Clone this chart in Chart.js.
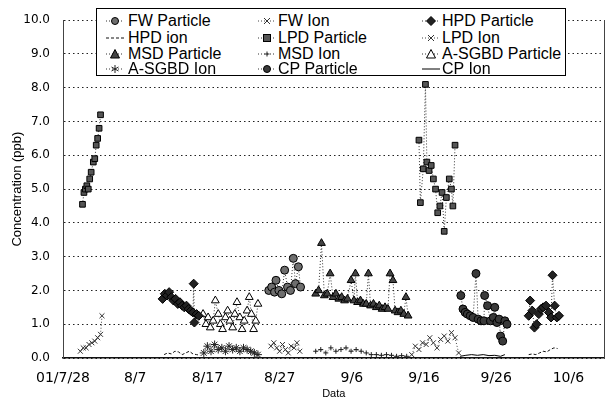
<!DOCTYPE html>
<html>
<head>
<meta charset="utf-8">
<script src="https://cdn.jsdelivr.net/npm/chart.js@4.4.1/dist/chart.umd.min.js"></script>
<style>
  html, body { margin:0; padding:0; background:#fff; }
  #wrap { position:relative; width:610px; height:403px; overflow:hidden; }
  #chart { position:absolute; left:0; top:0; }
  #legend { position:absolute; left:96px; top:8px; width:468px; height:66px; border:1px solid #000; background:#fff;
    font-family:"Liberation Sans", Arial, sans-serif; font-size:16px; color:#000; }
  .li { position:absolute; height:16px; white-space:nowrap; }
  .li svg { position:absolute; top:2px; }
  .li span { position:absolute; top:0; line-height:16px; }
</style>
</head>
<body>
<div id="wrap">
  <canvas id="chart" width="610" height="403"></canvas>
  <div id="legend"></div>
</div>
<script>
// ---------------- data (day 0 = 2001/7/28) ----------------
const xTickDays   = [0, 10, 20, 30, 40, 50, 60, 70];
const xTickLabels = ['01/7/28', '8/7', '8/17', '8/27', '9/6', '9/16', '9/26', '10/6'];

const fwParticleDays = [28.5, 28.9, 29.3, 29.5, 29.9, 30.3, 30.7, 31.1, 31.5, 31.9, 32.2, 32.6, 32.9];
const fwParticleVals = [2.0, 2.1, 1.95, 2.3, 2.0, 1.9, 2.6, 2.1, 2.0, 2.95, 2.2, 2.7, 2.1];
const fwIonDays = [28.8, 29.2, 29.6, 30.0, 30.4, 30.8, 31.2, 31.6, 32.0, 32.4, 32.8];
const fwIonVals = [0.35, 0.45, 0.3, 0.2, 0.4, 0.25, 0.15, 0.35, 0.3, 0.45, 0.2];

const hpdParticleDaysA = [13.8, 14.1, 14.4, 14.7, 15.0, 15.3, 15.6, 15.9, 16.2, 16.5, 16.8, 17.1, 17.4, 17.7, 18.0, 18.1, 18.2, 18.5, 18.8];
const hpdParticleValsA = [1.75, 1.9, 1.85, 1.95, 1.8, 1.7, 1.75, 1.6, 1.65, 1.55, 1.5, 1.55, 1.45, 1.4, 1.35, 2.2, 1.05, 1.3, 1.25];
const hpdParticleDaysB = [64.5, 64.7, 65.0, 65.3, 65.6, 65.9, 66.2, 66.5, 66.9, 67.3, 67.6, 67.8, 68.1, 68.4, 68.7];
const hpdParticleValsB = [1.25, 1.7, 1.4, 0.9, 1.0, 1.3, 1.45, 1.5, 1.55, 1.35, 1.2, 2.45, 1.55, 1.2, 1.25];
const hpdIonDaysA = [14.0, 14.5, 15.0, 15.5, 16.0, 16.5, 17.0, 17.5, 18.0, 18.5, 19.0];
const hpdIonValsA = [0.1, 0.15, 0.12, 0.2, 0.18, 0.1, 0.15, 0.2, 0.12, 0.1, 0.08];
const hpdIonDaysB = [64.5, 65.0, 65.5, 66.0, 66.5, 67.0, 67.5, 68.0, 68.5];
const hpdIonValsB = [0.1, 0.12, 0.1, 0.15, 0.2, 0.18, 0.25, 0.3, 0.28];

const lpdParticleDaysA = [2.7, 2.9, 3.1, 3.3, 3.5, 3.7, 3.9, 4.2, 4.4, 4.6, 4.8, 5.0, 5.2];
const lpdParticleValsA = [4.55, 4.9, 5.0, 5.1, 5.0, 5.3, 5.5, 5.8, 5.9, 6.3, 6.5, 6.8, 7.2];
const lpdParticleDaysB = [49.3, 49.5, 49.9, 50.2, 50.4, 50.7, 51.0, 51.3, 51.6, 51.9, 52.2, 52.5, 52.8, 53.1, 53.5, 53.8, 54.0, 54.3];
const lpdParticleValsB = [6.45, 4.6, 5.6, 8.1, 5.8, 5.55, 5.7, 5.3, 5.0, 4.3, 4.5, 4.9, 3.75, 4.75, 5.3, 5.0, 4.5, 6.3];
const lpdIonDaysA = [2.4, 2.8, 3.2, 3.6, 4.0, 4.4, 4.8, 5.2, 5.4];
const lpdIonValsA = [0.2, 0.3, 0.3, 0.4, 0.45, 0.5, 0.6, 0.7, 1.25];
const lpdIonDaysB = [48.3, 48.8, 49.3, 49.8, 50.3, 50.8, 51.3, 51.8, 52.3, 52.8, 53.3, 53.8, 54.3, 54.8];
const lpdIonValsB = [0.1, 0.35, 0.25, 0.45, 0.4, 0.6, 0.45, 0.3, 0.55, 0.65, 0.5, 0.75, 0.6, 0.15];

const msdParticleDays = [35.0, 35.4, 35.8, 36.2, 36.6, 37.0, 37.4, 37.8, 38.2, 38.6, 39.0, 39.4, 39.9, 40.3, 40.5, 40.8, 41.2, 41.6, 42.0, 42.3, 42.6, 43.0, 43.4, 43.8, 44.2, 44.6, 45.0, 45.3, 45.7, 46.0, 46.4, 46.8, 47.2, 47.5, 47.8];
const msdParticleVals = [1.9, 2.0, 3.4, 1.85, 1.9, 2.5, 1.8, 1.9, 1.75, 1.8, 1.7, 1.75, 2.3, 1.7, 2.5, 1.65, 1.7, 1.6, 1.6, 2.5, 1.55, 1.6, 1.5, 1.55, 1.45, 1.5, 1.45, 2.5, 2.3, 1.4, 1.35, 1.4, 1.3, 1.8, 1.25];
const msdIonDays = [35.0, 35.7, 36.4, 37.1, 37.8, 38.5, 39.2, 39.9, 40.6, 41.3, 42.0, 42.7, 43.4, 44.1, 44.8, 45.5, 46.2, 46.9, 47.6];
const msdIonVals = [0.2, 0.25, 0.15, 0.3, 0.2, 0.25, 0.3, 0.2, 0.25, 0.2, 0.15, 0.1, 0.1, 0.08, 0.1, 0.08, 0.05, 0.07, 0.05];

const asgbdParticleDays = [19.4, 19.8, 20.1, 20.4, 20.8, 21.1, 21.5, 21.8, 22.1, 22.5, 22.8, 23.1, 23.5, 23.8, 24.1, 24.5, 24.8, 25.1, 25.5, 25.8, 26.1, 26.4, 26.7, 27.0];
const asgbdParticleVals = [1.3, 1.0, 1.2, 0.9, 1.1, 1.7, 1.3, 1.0, 0.85, 1.2, 1.4, 1.1, 0.9, 1.3, 1.65, 1.2, 0.85, 1.1, 1.4, 1.8, 1.3, 0.85, 1.1, 1.6];
const asgbdIonDays = [19.5, 20.0, 20.5, 21.0, 21.5, 22.0, 22.5, 23.0, 23.5, 24.0, 24.5, 25.0, 25.5, 26.0, 26.5, 27.0];
const asgbdIonVals = [0.15, 0.35, 0.2, 0.4, 0.25, 0.3, 0.2, 0.35, 0.25, 0.3, 0.2, 0.3, 0.25, 0.2, 0.15, 0.1];

const cpParticleDays = [55.1, 55.4, 55.7, 56.0, 56.4, 56.8, 57.2, 57.5, 57.9, 58.3, 58.4, 58.8, 59.2, 59.6, 59.8, 60.1, 60.4, 60.6, 60.9, 61.2, 61.5];
const cpParticleVals = [1.85, 1.45, 1.35, 1.3, 1.25, 1.2, 2.5, 1.15, 1.1, 1.1, 1.85, 1.55, 1.1, 1.2, 1.5, 1.05, 1.15, 0.65, 0.5, 1.1, 1.0];
const cpIonDays = [55.0, 55.8, 56.6, 57.4, 58.2, 59.0, 59.8, 60.6, 61.2];
const cpIonVals = [0.05, 0.08, 0.1, 0.08, 0.1, 0.07, 0.08, 0.05, 0.1];

// ---------------- helpers ----------------
function pts(groups) {
  const out = [];
  groups.forEach((g, gi) => {
    if (gi > 0) out.push({ x: g[0][0] - 0.01, y: null });
    g[0].forEach((d, i) => out.push({ x: d, y: g[1][i] }));
  });
  return out;
}

const DOT = [1, 2];
const series = [
  { label: 'FW Particle', groups: [[fwParticleDays, fwParticleVals]], ps: 'circle', r: 4, bg: '#6e6e6e', bc: '#000', dash: DOT, lc: '#333' },
  { label: 'FW Ion', groups: [[fwIonDays, fwIonVals]], ps: 'crossRot', r: 3.5, bg: '#000', bc: '#333', dash: DOT, lc: '#444' },
  { label: 'HPD Particle', groups: [[hpdParticleDaysA, hpdParticleValsA], [hpdParticleDaysB, hpdParticleValsB]], ps: 'rectRot', r: 4.5, bg: '#222', bc: '#000', dash: DOT, lc: '#333' },
  { label: 'HPD ion', groups: [[hpdIonDaysA, hpdIonValsA], [hpdIonDaysB, hpdIonValsB]], ps: false, r: 0, bg: '#000', bc: '#000', dash: [3, 2], lc: '#111' },
  { label: 'LPD Particle', groups: [[lpdParticleDaysA, lpdParticleValsA], [lpdParticleDaysB, lpdParticleValsB]], ps: 'rect', r: 4, bg: '#555', bc: '#000', dash: DOT, lc: '#333' },
  { label: 'LPD Ion', groups: [[lpdIonDaysA, lpdIonValsA], [lpdIonDaysB, lpdIonValsB]], ps: 'crossRot', r: 3.5, bg: '#000', bc: '#333', dash: DOT, lc: '#444' },
  { label: 'MSD Particle', groups: [[msdParticleDays, msdParticleVals]], ps: 'triangle', r: 4.5, bg: '#444', bc: '#000', dash: DOT, lc: '#333' },
  { label: 'MSD Ion', groups: [[msdIonDays, msdIonVals]], ps: 'cross', r: 2.5, bg: '#000', bc: '#222', dash: DOT, lc: '#333' },
  { label: 'A-SGBD Particle', groups: [[asgbdParticleDays, asgbdParticleVals]], ps: 'triangle', r: 4.5, bg: '#fff', bc: '#000', dash: DOT, lc: '#333' },
  { label: 'A-SGBD Ion', groups: [[asgbdIonDays, asgbdIonVals]], ps: 'star', r: 4, bg: '#000', bc: '#222', dash: DOT, lc: '#333' },
  { label: 'CP Particle', groups: [[cpParticleDays, cpParticleVals]], ps: 'circle', r: 4, bg: '#3a3a3a', bc: '#000', dash: DOT, lc: '#333' },
  { label: 'CP Ion', groups: [[cpIonDays, cpIonVals]], ps: false, r: 0, bg: '#000', bc: '#000', dash: [], lc: '#000' }
];

const datasets = series.map(s => ({
  label: s.label,
  data: pts(s.groups),
  showLine: true,
  spanGaps: false,
  borderColor: s.lc,
  borderWidth: 1,
  borderDash: s.dash,
  pointStyle: s.ps,
  pointRadius: s.r,
  pointRotation: s.rot || 0,
  pointBackgroundColor: s.bg,
  pointBorderColor: s.bc,
  pointBorderWidth: 1
}));

new Chart(document.getElementById('chart'), {
  type: 'scatter',
  data: { datasets },
  options: {
    responsive: false,
    devicePixelRatio: 1,
    animation: false,
    layout: { padding: { top: 18, right: 3, left: 0, bottom: 0 } },
    plugins: { legend: { display: false }, tooltip: { enabled: false } },
    scales: {
      x: {
        type: 'linear', min: 0, max: 75,
        afterBuildTicks: s => { s.ticks = xTickDays.map(v => ({ value: v })); },
        afterFit: s => { s.height = 45; },
        ticks: {
          callback: v => { const i = xTickDays.indexOf(v); return i >= 0 ? xTickLabels[i] : ''; },
          font: { family: 'DejaVu Sans', size: 14 }, color: '#000', padding: 12, maxRotation: 0, autoSkip: false
        },
        grid: { display: false, drawTicks: false },
        border: { display: true, color: '#111', width: 1.5 },
        title: { display: true, text: 'Data', font: { family: 'Liberation Sans', size: 11 }, color: '#000', padding: { top: 0, bottom: 2 } }
      },
      y: {
        min: 0, max: 10,
        afterFit: s => { s.width = 63; },
        ticks: { stepSize: 1, callback: v => v.toFixed(1), font: { family: 'DejaVu Sans', size: 12 }, color: '#000', padding: 13 },
        grid: { color: '#222', lineWidth: 1, drawTicks: false },
        border: { display: true, color: '#444', width: 1, dash: [1.5, 3] },
        title: { display: true, text: 'Concentration (ppb)', font: { family: 'Liberation Sans', size: 13 }, color: '#000', padding: { top: 10, bottom: 0 } }
      },
      y2: {
        position: 'right', min: 0, max: 10,
        afterFit: s => { s.width = 0; },
        ticks: { display: false },
        grid: { display: false, drawTicks: false },
        border: { display: true, color: '#444', width: 1 }
      }
    }
  }
});

// ---------------- legend (HTML overlay) ----------------
function markerSvg(s, left) {
  const dash = s.dash.length ? `stroke-dasharray="${s.dash.join(',')}"` : '';
  let m = '';
  const f = s.bg, st = s.bc;
  switch (s.ps) {
    case 'circle': m = `<circle cx="10" cy="6" r="3.5" fill="${f}" stroke="${st}"/>`; break;
    case 'rect': m = `<rect x="6.5" y="2.5" width="7" height="7" fill="${f}" stroke="${st}"/>`; break;
    case 'rectRot': m = `<polygon points="10,1.5 14.5,6 10,10.5 5.5,6" fill="${f}" stroke="${st}"/>`; break;
    case 'triangle': m = `<polygon points="10,1.5 14.5,10 5.5,10" fill="${f}" stroke="${st}"/>`; break;
    case 'crossRot': m = `<path d="M7,3 L13,9 M13,3 L7,9" stroke="${st}" fill="none"/>`; break;
    case 'cross': m = `<path d="M10,3.5 L10,8.5 M7.5,6 L12.5,6" stroke="${st}" fill="none"/>`; break;
    case 'star': m = `<path d="M10,2 L10,10 M6.5,4 L13.5,8 M13.5,4 L6.5,8" stroke="${st}" fill="none"/>`; break;
    default: m = '';
  }
  return `<svg style="left:${left}px" width="20" height="12" viewBox="0 0 20 12"><line x1="1" y1="6" x2="19" y2="6" stroke="${s.lc}" ${dash}/>${m}</svg>`;
}
const legendColMarker = [18, 170, 334];
const legendColText = [31, 181, 345];
const legendRowCenter = [12, 28.5, 45, 60];
const lg = document.getElementById('legend');
series.forEach((s, i) => {
  const row = Math.floor(i / 3), col = i % 3;
  const d = document.createElement('div');
  d.className = 'li';
  d.style.left = '0px';
  d.style.top = (legendRowCenter[row] - 8) + 'px';
  d.style.width = '460px';
  d.innerHTML = markerSvg(s, legendColMarker[col] - 10) + `<span style="left:${legendColText[col]}px">${s.label}</span>`;
  lg.appendChild(d);
});
</script>
</body>
</html>
